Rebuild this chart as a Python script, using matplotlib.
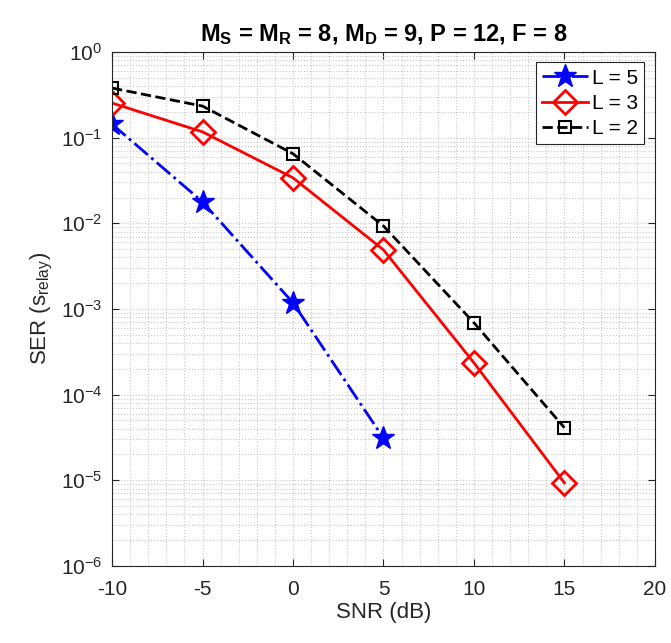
import matplotlib
matplotlib.use('Agg')
import matplotlib.pyplot as plt
from matplotlib.ticker import LogLocator, MultipleLocator, NullFormatter

plt.rcParams['font.family'] = ['Liberation Sans', 'DejaVu Sans']
plt.rcParams['mathtext.fontset'] = 'custom'
plt.rcParams['mathtext.rm'] = 'Liberation Sans'
plt.rcParams['mathtext.it'] = 'Liberation Sans:italic'
plt.rcParams['mathtext.bf'] = 'Liberation Sans:bold'
plt.rcParams['axes.unicode_minus'] = False

# data
snr_l5 = [-10, -5, 0, 5]
ser_l5 = [0.144, 0.0178, 1.18e-3, 3.1e-5]
snr_l3 = [-10, -5, 0, 5, 10, 15]
ser_l3 = [0.254, 0.117, 0.034, 4.9e-3, 2.35e-4, 9.3e-6]
snr_l2 = [-10, -5, 0, 5, 10, 15]
ser_l2 = [0.38, 0.234, 0.065, 9.3e-3, 6.9e-4, 4.1e-5]

fig = plt.figure(figsize=(6.71, 6.43), dpi=100)
ax = fig.add_axes([0.167, 0.12, 0.809, 0.799])

ax.semilogy(snr_l5, ser_l5, '-.', color='#0000ff', lw=2, marker='*', ms=17,
            mfc='#0000ff', mec='#0000ff', label='L = 5')
ax.semilogy(snr_l3, ser_l3, '-', color='#ff0000', lw=2, marker='D', ms=12,
            mfc='none', mec='#ff0000', mew=2, label='L = 3')
ax.semilogy(snr_l2, ser_l2, '--', color='black', lw=2, marker='s', ms=9,
            mfc='none', mec='black', mew=1.5, label='L = 2')

ax.set_xlim(-10, 20)
ax.set_ylim(1e-6, 1)
ax.xaxis.set_major_locator(MultipleLocator(5))
ax.xaxis.set_minor_locator(MultipleLocator(1))
ax.yaxis.set_major_locator(LogLocator(base=10, numticks=10))
ax.yaxis.set_minor_locator(LogLocator(base=10, subs=range(2, 10), numticks=20))
ax.yaxis.set_minor_formatter(NullFormatter())
ax.grid(True, which='both', color='#c8c8c8', ls=':', lw=0.8)
ax.set_axisbelow(True)

for s in ax.spines.values():
    s.set_color('#262626')
    s.set_linewidth(0.8)
ax.tick_params(which='both', direction='in', top=True, right=True,
               colors='#262626', labelsize=15)
ax.tick_params(which='minor', length=0)
ax.tick_params(which='major', length=5)
ax.tick_params(axis='x', pad=10)
ax.tick_params(axis='y', pad=7)

ax.set_xlabel('SNR (dB)', fontsize=16, color='#262626', labelpad=2)
ax.set_ylabel(r'SER (s$_{\mathrm{relay}}$)', fontsize=16, color='#262626')
ax.set_title(r'$\mathbf{M_S}$ = $\mathbf{M_R}$ = 8, $\mathbf{M_D}$ = 9, P = 12, F = 8',
             fontsize=17, fontweight='bold', pad=8)

leg = ax.legend(loc='upper right', fontsize=15, fancybox=False, framealpha=1,
                edgecolor='#262626', handlelength=2.2, borderpad=0.3,
                labelspacing=0.3, handletextpad=0.2)
leg.get_frame().set_linewidth(0.8)

fig.savefig('out.png', dpi=100)
